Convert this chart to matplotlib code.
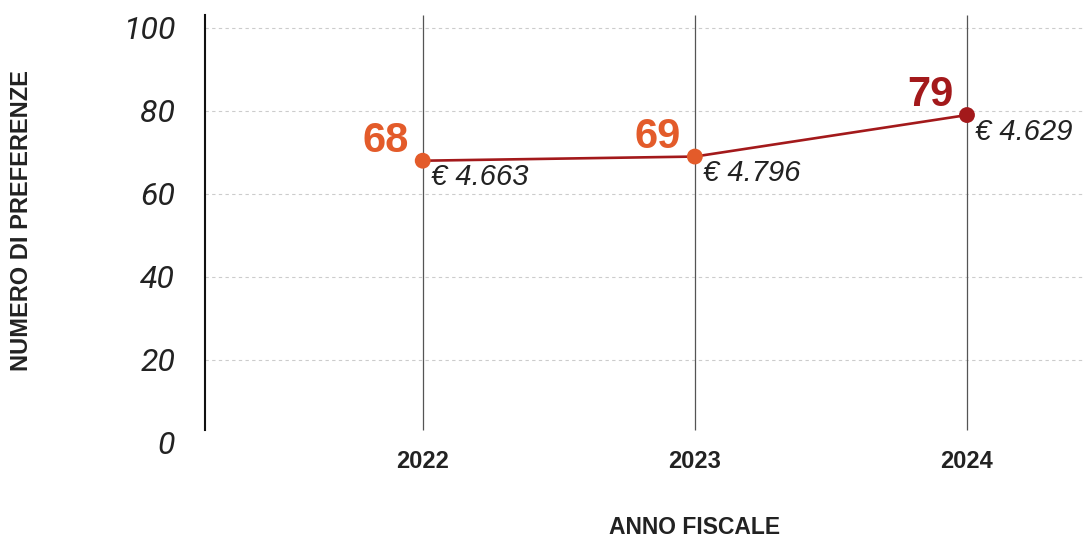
import matplotlib.pyplot as plt

# preferenze per anno fiscale
anni = [2022, 2023, 2024]
preferenze = [68, 69, 79]
importi = ['€ 4.663', '€ 4.796', '€ 4.629']
colori_punti = ['#E35B2A', '#E35B2A', '#A3191B']
y_ticks = [0, 20, 40, 60, 80, 100]

LINE = '#A3191B'
TEXT = '#222222'
SANS = ['Liberation Sans', 'DejaVu Sans']
TICKS = ['Roboto', 'Liberation Sans', 'DejaVu Sans']

fig = plt.figure(figsize=(10.84, 5.37), dpi=100)
ax = fig.add_axes([205 / 1084, 1 - 443 / 537, 1 - 205 / 1084, (443 - 15) / 537])

y_low, y_high = 3.1, 103.1
ax.set_xlim(2021.2, 2024.43)
ax.set_ylim(0, y_high)

# griglia orizzontale tratteggiata
for t in y_ticks[1:]:
    ax.axhline(t, color='#cccccc', lw=0.8, ls=(0, (3, 3)), zorder=0)
# linee verticali per ogni anno
ax.vlines(anni, y_low, y_high, color='#555555', lw=0.9, zorder=1)

ax.plot(anni, preferenze, color=LINE, lw=1.9, zorder=2)
ax.scatter(anni, preferenze, s=130, c=colori_punti, zorder=3, linewidths=0)

for x, v, imp, c in zip(anni, preferenze, importi, colori_punti):
    ax.annotate(str(v), (x, v), xytext=(-10, 6.5), textcoords='offset points',
                ha='right', va='baseline', color=c, fontsize=30,
                fontweight='bold', family=SANS)
    ax.annotate(imp, (x, v), xytext=(6, -2), textcoords='offset points',
                ha='left', va='top', color=TEXT, fontsize=21,
                style='italic', family=SANS)

for s in ['top', 'right', 'bottom']:
    ax.spines[s].set_visible(False)
ax.spines['left'].set_bounds(y_low, y_high)
ax.spines['left'].set_linewidth(1.5)
ax.spines['left'].set_color('#111111')

ax.set_yticks(y_ticks)
ax.set_yticklabels([str(t) for t in y_ticks], fontsize=23, style='italic',
                   family=TICKS, color=TEXT)
ax.tick_params(axis='y', length=0, pad=21.5)
ax.set_xticks(anni)
ax.set_xticklabels([str(a) for a in anni], fontsize=17, fontweight='bold',
                   family=SANS, color=TEXT)
ax.tick_params(axis='x', length=0, pad=5)

ax.set_xlabel('ANNO FISCALE', fontsize=16.5, fontweight='bold', family=SANS,
              color=TEXT)
ax.xaxis.set_label_coords((695 - 205) / (1084 - 205), -(527 - 443) / (443 - 15),
                          transform=ax.transAxes)
ax.xaxis.label.set_va('center')
fig.text(22 / 1084, 1 - 221 / 537, 'NUMERO DI PREFERENZE', rotation=90,
         ha='center', va='center', fontsize=17, fontweight='bold',
         family=SANS, color=TEXT)

fig.savefig('out.png', dpi=100, facecolor='white')
